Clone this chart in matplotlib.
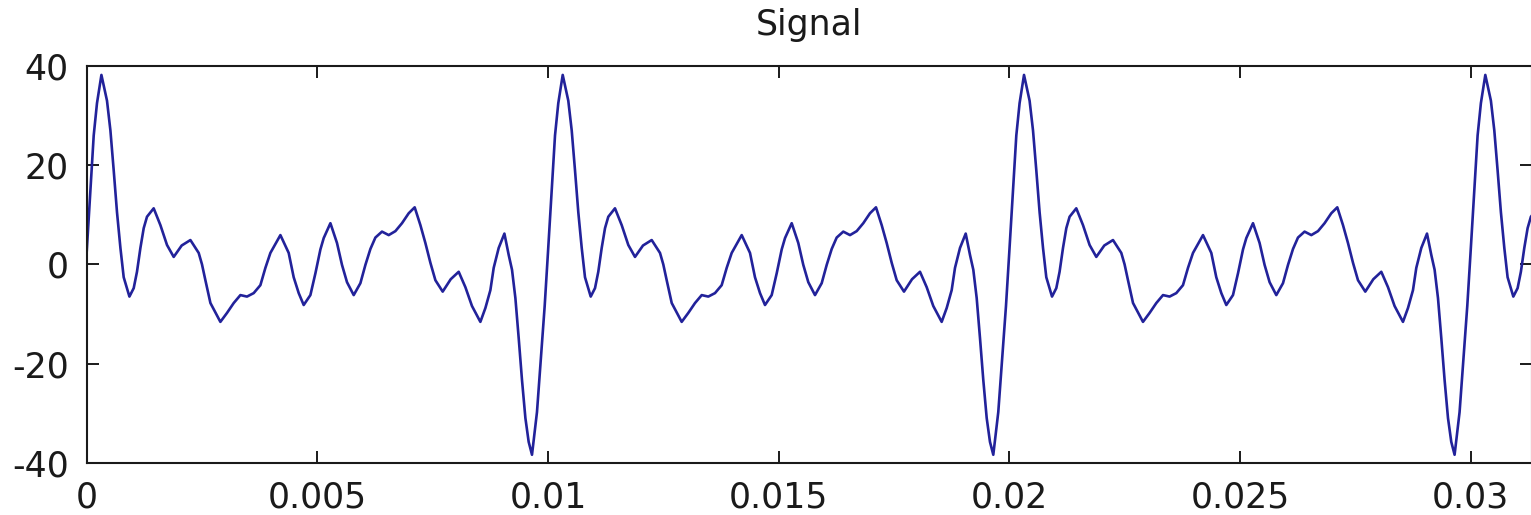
import numpy as np
import matplotlib
matplotlib.use("Agg")
import matplotlib.pyplot as plt

# ---- data (one period of the periodic signal) ----
PERIOD = 0.01            # seconds (peak-to-peak spacing)
N_PERIODS = 4            # periods shown (last one clipped by the x-limit)

# time within one period, in units of 1e-4 s
period_t_1e4 = [0, 0.80, 1.52, 2.23, 3.19, 4.40, 5.14, 5.85, 6.57, 7.31,
                8.02, 9.26, 10.19, 10.90, 11.64, 12.36, 13.07, 14.52, 15.98, 17.41,
                18.86, 20.59, 22.48, 24.28, 24.99, 25.73, 26.82, 28.98, 30.41, 31.87,
                33.32, 34.75, 36.20, 37.65, 38.74, 39.82, 41.99, 43.79, 44.87, 45.96,
                47.04, 48.49, 49.58, 50.66, 51.38, 52.83, 54.26, 55.34, 56.43, 57.88,
                59.33, 60.42, 61.50, 62.58, 64.01, 65.47, 66.92, 68.35, 69.80, 71.10,
                72.34, 73.42, 74.51, 75.59, 77.17, 78.91, 80.64, 82.09, 83.52, 85.34,
                86.43, 87.51, 88.23, 89.31, 90.55, 91.48, 92.20, 92.93, 93.65, 94.36,
                95.10, 95.81, 96.53, 97.61, 98.35, 99.28]
period_v = [2.5, 15, 26, 32.5, 38.2, 33, 27, 19, 10.5, 3.3,
            -2.6, -6.5, -4.8, -1.5, 3.3, 7.3, 9.6, 11.3, 7.9, 3.9,
            1.5, 3.8, 4.9, 2.3, 0, -3.2, -7.8, -11.6, -9.8, -7.8,
            -6.2, -6.5, -5.8, -4.2, -0.7, 2.3, 5.9, 2.3, -2.6, -5.8,
            -8.2, -6.2, -1.8, 3.0, 5.3, 8.3, 4.3, -0.1, -3.6, -6.2,
            -3.8, -0.1, 3.1, 5.4, 6.6, 5.9, 6.7, 8.3, 10.3, 11.5,
            7.9, 4.3, 0.3, -3.2, -5.5, -3.0, -1.5, -4.6, -8.4, -11.6,
            -8.8, -5.2, -0.7, 3.3, 6.2, 1.9, -1.1, -6.8, -14.9, -23.3,
            -31, -35.8, -38.4, -29.8, -20.3, -8.4]

x_ticks = [0, 0.005, 0.01, 0.015, 0.02, 0.025, 0.03]
x_tick_labels = ['0', '0.005', '0.01', '0.015', '0.02', '0.025', '0.03']
y_ticks = [-40, -20, 0, 20, 40]
y_tick_labels = ['-40', '-20', '0', '20', '40']
title_text = 'Signal'

# ---- build the series (the signal repeats identically every period) ----
t = np.concatenate([np.array(period_t_1e4) * 1e-4 + k * PERIOD for k in range(N_PERIODS)])
v = np.tile(np.array(period_v, dtype=float), N_PERIODS)

# ---- figure ----
W, H = 1531, 515
fig = plt.figure(figsize=(W / 100, H / 100), dpi=100, facecolor='white')
left_px, right_px, top_px, bottom_px = 86.7, 1532.0, 66.0, 462.7
ax = fig.add_axes([left_px / W, (H - bottom_px) / H,
                   (right_px - left_px) / W, (bottom_px - top_px) / H])
ax.set_facecolor('white')

ax.plot(t, v, color='#22229a', linewidth=1.9, solid_joinstyle='round')

ax.set_xlim(0, (right_px - left_px) / 46130)
ax.set_ylim(-40, 40)
ax.set_xticks(x_ticks)
ax.set_xticklabels(x_tick_labels)
ax.set_yticks(y_ticks)
ax.set_yticklabels(y_tick_labels)

text_color = '#1a1a1a'
ax.tick_params(axis='both', direction='in', length=8.5, width=1.4,
               top=True, right=True, labelsize=25, pad=13,
               colors=text_color)
for sp in ax.spines.values():
    sp.set_linewidth(1.5)
    sp.set_color(text_color)

ax.set_title(title_text, fontsize=25, pad=22, color=text_color)

fig.savefig('out.png', dpi=100, facecolor='white')
